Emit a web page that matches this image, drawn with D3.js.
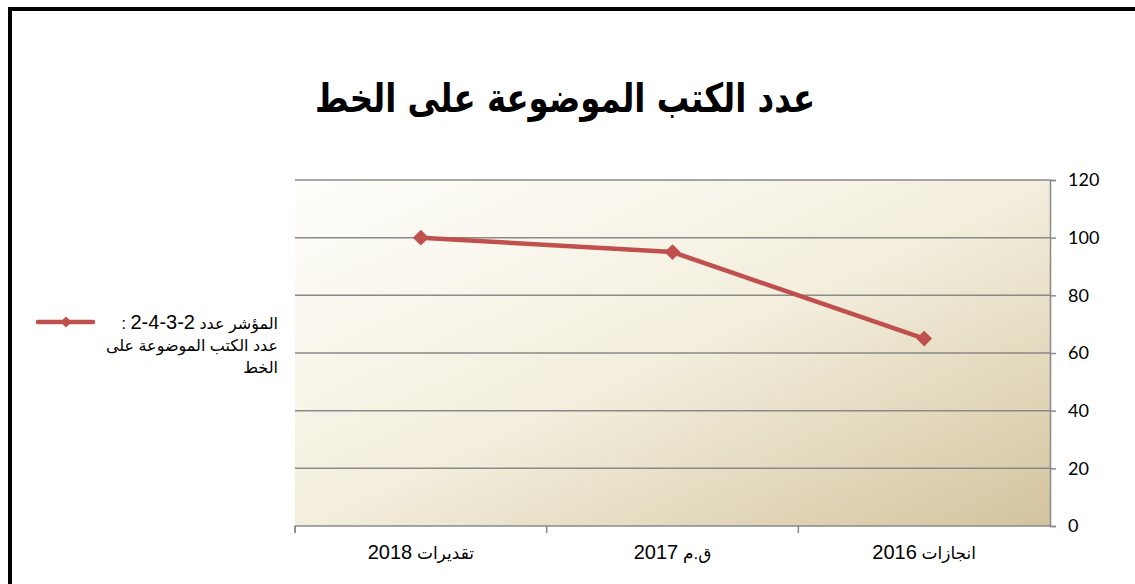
<!DOCTYPE html>
<html>
<head>
<meta charset="utf-8">
<script src="https://cdn.jsdelivr.net/npm/d3@7"></script>
<style>
  body { margin: 0; background: #fff; }
  svg { display: block; }
</style>
</head>
<body>
<div class="chart"></div>
<script>
//Chart data
var categories = ["انجازات 2016", "ق.م 2017", "تقديرات 2018"];
var values = [65, 95, 100];
var yTicks = [0, 20, 40, 60, 80, 100, 120];
var title = "عدد الكتب الموضوعة على الخط";
var legendLines = ["المؤشر عدد 2-3-4-2 :", "عدد الكتب الموضوعة على", "الخط"];

//Width and height
var w = 1135;
var h = 584;
var plot = { left: 295, right: 1050, top: 180, bottom: 526 };
var red = "#c0504d";
var grid = "#898989";
var textFont = "'Liberation Sans', 'DejaVu Sans', sans-serif";

var svg = d3.select(".chart")
    .append("svg")
    .attr("width", w)
    .attr("height", h);

//Background gradient of plot area
var defs = svg.append("defs");
var grad = defs.append("linearGradient")
    .attr("id", "bg")
    .attr("x1", 0).attr("y1", 0)
    .attr("x2", 1).attr("y2", 1);
grad.append("stop").attr("offset", "0%").attr("stop-color", "#fefefb");
grad.append("stop").attr("offset", "50%").attr("stop-color", "#f3eedd");
grad.append("stop").attr("offset", "100%").attr("stop-color", "#d3c49e");

//Outer frame
svg.append("rect")
    .attr("x", 10)
    .attr("y", 9)
    .attr("width", 1400)
    .attr("height", 800)
    .attr("fill", "none")
    .attr("stroke", "#000")
    .attr("stroke-width", 4);

//Title
svg.append("text")
    .attr("x", 565)
    .attr("y", 112)
    .attr("text-anchor", "middle")
    .attr("direction", "rtl")
    .attr("textLength", 500)
    .attr("lengthAdjust", "spacingAndGlyphs")
    .style("font-family", "'DejaVu Sans', sans-serif")
    .style("font-weight", "bold")
    .style("font-size", "40px")
    .text(title);

//Scales (categories run right to left)
var xScale = d3.scaleBand()
    .domain(categories)
    .range([plot.right, plot.left]);

var yScale = d3.scaleLinear()
    .domain([0, 120])
    .range([plot.bottom, plot.top]);

svg.append("rect")
    .attr("x", plot.left)
    .attr("y", plot.top)
    .attr("width", plot.right - plot.left)
    .attr("height", plot.bottom - plot.top)
    .attr("fill", "url(#bg)");

//Gridlines
svg.selectAll(".grid")
    .data(yTicks.filter(d => d > 0))
    .enter()
    .append("line")
    .attr("x1", plot.left)
    .attr("x2", plot.right)
    .attr("y1", d => yScale(d))
    .attr("y2", d => yScale(d))
    .attr("stroke", grid)
    .attr("stroke-width", 1.5);

//Right value axis
var yAxis = d3.axisRight(yScale)
    .tickValues(yTicks)
    .tickSize(6)
    .tickPadding(12);
var gy = svg.append("g")
    .attr("transform", "translate(" + plot.right + ",0)")
    .call(yAxis);
gy.selectAll("path, line").attr("stroke", grid).attr("stroke-width", 1.5);
gy.selectAll("text")
    .style("font-family", "Lato, 'Open Sans', sans-serif")
    .style("font-size", "18px")
    .attr("fill", "#000");

//Bottom category axis
svg.append("line")
    .attr("x1", plot.left).attr("x2", plot.right)
    .attr("y1", plot.bottom).attr("y2", plot.bottom)
    .attr("stroke", grid).attr("stroke-width", 1.5);

var bounds = categories.map(d => xScale(d)).concat([plot.left]);
svg.selectAll(".xtick")
    .data(bounds)
    .enter()
    .append("line")
    .attr("x1", d => d).attr("x2", d => d)
    .attr("y1", plot.bottom).attr("y2", plot.bottom + 7)
    .attr("stroke", grid).attr("stroke-width", 1.5);

//Category labels: Arabic word smaller, year digits larger
var xLabels = svg.selectAll(".xlabel")
    .data(categories)
    .enter()
    .append("text")
    .attr("x", d => xScale(d) + xScale.bandwidth() / 2)
    .attr("y", 559)
    .attr("text-anchor", "middle")
    .attr("direction", "rtl")
    .style("font-family", textFont)
    .style("font-size", "17px");
xLabels.append("tspan").text(d => d.split(" ")[0] + " ");
xLabels.append("tspan").style("font-size", "20px").text(d => d.split(" ")[1]);

//Series line
var line = d3.line()
    .x((d, i) => xScale(categories[i]) + xScale.bandwidth() / 2)
    .y(d => yScale(d));

svg.append("path")
    .datum(values)
    .attr("d", line)
    .attr("fill", "none")
    .attr("stroke", red)
    .attr("stroke-width", 4.5);

var diamond = d3.symbol().type(d3.symbolDiamond2).size(160);
svg.selectAll(".marker")
    .data(values)
    .enter()
    .append("path")
    .attr("d", diamond)
    .attr("transform", (d, i) => "translate(" + (xScale(categories[i]) + xScale.bandwidth() / 2) + "," + yScale(d) + ")")
    .attr("fill", red);

//Legend
svg.append("line")
    .attr("x1", 38).attr("x2", 93)
    .attr("y1", 322).attr("y2", 322)
    .attr("stroke", red)
    .attr("stroke-width", 4.5)
    .attr("stroke-linecap", "round");
svg.append("path")
    .attr("d", d3.symbol().type(d3.symbolDiamond2).size(80))
    .attr("transform", "translate(66,322)")
    .attr("fill", red);

var legendText = svg.selectAll(".legend")
    .data(legendLines)
    .enter()
    .append("text")
    .attr("x", 278)
    .attr("y", (d, i) => 329 + i * 22)
    .attr("text-anchor", "start")
    .attr("direction", "rtl")
    .style("font-family", textFont)
    .style("font-size", "16px");
legendText.each(function(d) {
    var parts = d.split(/(\d[\d-]*\d)/);
    var t = d3.select(this);
    parts.forEach(p => {
        if (!p) return;
        var span = t.append("tspan").text(p);
        if (/\d/.test(p)) span.style("font-size", "20px");
    });
});
</script>
</body>
</html>
